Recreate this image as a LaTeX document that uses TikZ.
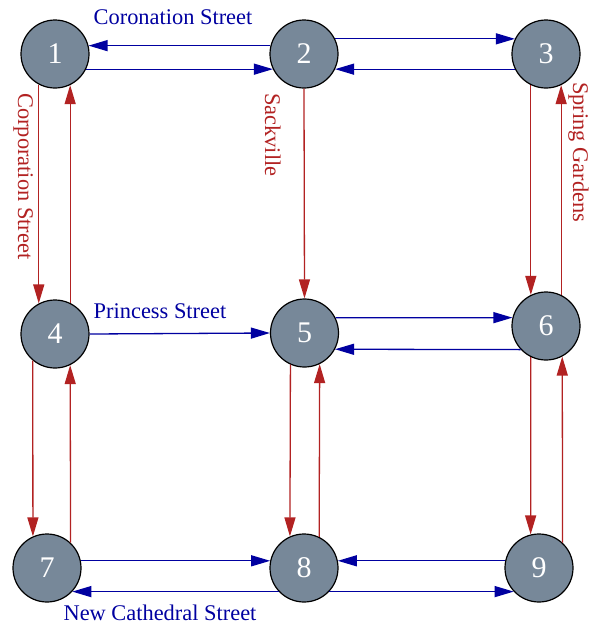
\documentclass[tikz,border=0pt]{standalone}
\usepackage{fontspec}
\setmainfont{Liberation Serif}
\usetikzlibrary{arrows.meta}
\definecolor{edgeblue}{RGB}{0,0,160}
\definecolor{edgered}{RGB}{178,34,34}
\definecolor{nodegray}{RGB}{119,136,153}
\begin{document}
\begin{tikzpicture}[x=1pt,y=-1pt,
  junction/.style={circle,draw=black,line width=1.2pt,fill=nodegray,minimum size=68pt,inner sep=0pt,text=white,font=\fontsize{30}{34}\selectfont},
  bluearrow/.style={draw=edgeblue,line width=1.3pt,-{Triangle[length=19pt,width=11pt]}},
  redarrow/.style={draw=edgered,line width=1.3pt,-{Triangle[length=19pt,width=11pt]}},
  bluelabel/.style={text=edgeblue,font=\fontsize{22.4}{26}\selectfont,inner sep=0pt},
  redlabel/.style={text=edgered,font=\fontsize{22.4}{26}\selectfont,inner sep=0pt,rotate=-90,anchor=base west}]
\useasboundingbox (0,0) rectangle (591,625);
\node[junction] (n1) at (55,54) {1};
\node[junction] (n2) at (304,54) {2};
\node[junction] (n3) at (546,54) {3};
\node[junction] (n4) at (55,334) {4};
\node[junction] (n5) at (304.5,333) {5};
\node[junction] (n6) at (546,326) {6};
\node[junction] (n7) at (47,568) {7};
\node[junction] (n8) at (304,568) {8};
\node[junction] (n9) at (539,568) {9};
% Coronation Street
\draw[bluearrow] (n2.166) -- (n1.14);
\draw[bluearrow] (n1.-26) -- (n2.206);
\draw[bluearrow] (n2.26) -- (n3.154);
\draw[bluearrow] (n3.206) -- (n2.-26);
% Princess Street
\draw[bluearrow] (n4.east) -- (n5.west);
\draw[bluearrow] (n5.26) -- (n6.166);
\draw[bluearrow] (n6.223) -- (n5.-28);
% New Cathedral Street
\draw[bluearrow] (n7.12) -- (n8.168);
\draw[bluearrow] (n9.168) -- (n8.12);
\draw[bluearrow] (n8.223) -- (n7.-43);
\draw[bluearrow] (n8.-43) -- (n9.223);
% Corporation Street
\draw[redarrow] (n1.242) -- (n4.118);
\draw[redarrow] (n4.64) -- (n1.-64);
\draw[redarrow] (n4.230) -- (n7.114);
\draw[redarrow] (n7.47) -- (n4.-64);
% Sackville
\draw[redarrow] (n2.south) -- (n5.north);
\draw[redarrow] (n5.246) -- (n8.114);
\draw[redarrow] (n8.64) -- (n5.-64);
% Spring Gardens
\draw[redarrow] (n3.244) -- (n6.116);
\draw[redarrow] (n6.64) -- (n3.-64);
\draw[redarrow] (n6.244) -- (n9.104);
\draw[redarrow] (n9.47) -- (n6.-62);
% labels
\node[bluelabel,anchor=base] (lcor) at (173,24) {Coronation Street};
\node[bluelabel,anchor=base] (lpri) at (160,318) {Princess Street};
\node[bluelabel,anchor=base] (lnew) at (160,620) {New Cathedral Street};
\node[redlabel] (lcorp) at (18,93) {Corporation Street};
\node[redlabel] (lsack) at (265,93) {Sackville};
\node[redlabel] (lspr) at (573,82) {Spring Gardens};
\end{tikzpicture}
\end{document}
